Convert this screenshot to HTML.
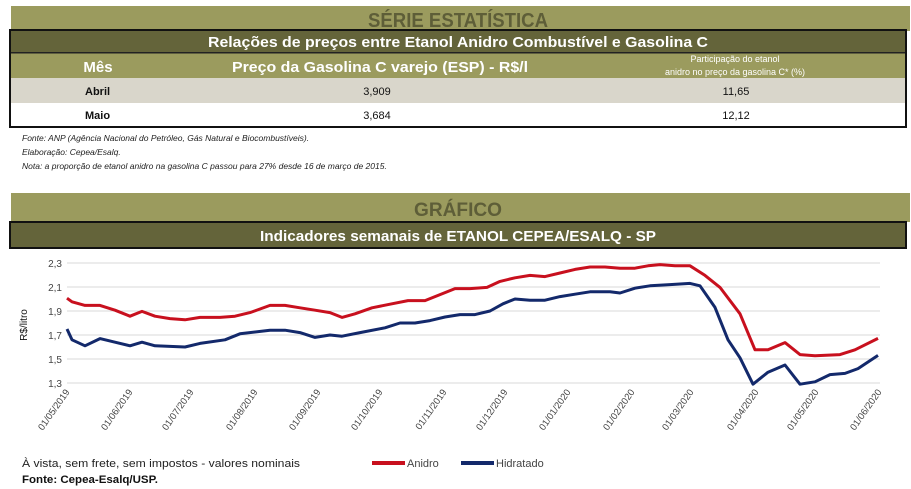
<!DOCTYPE html>
<html><head><meta charset="utf-8"><style>
body{margin:0;background:#fff;}
svg{display:block;font-family:"Liberation Sans",sans-serif;}
</style></head><body>
<svg width="911" height="489" viewBox="0 0 911 489">
<rect x="11" y="6" width="899" height="25" fill="#9b9b5e"/>
<text x="458" y="27" text-anchor="middle" font-size="20" font-weight="bold" fill="#5e5e38" textLength="180" lengthAdjust="spacingAndGlyphs">SÉRIE ESTATÍSTICA</text>
<rect x="10" y="30" width="896" height="97" fill="none" stroke="#111" stroke-width="2"/>
<rect x="11" y="31" width="894" height="21" fill="#64643a"/>
<text x="458" y="47" text-anchor="middle" font-size="15" font-weight="bold" fill="#fff" textLength="500" lengthAdjust="spacingAndGlyphs">Relações de preços entre Etanol Anidro Combustível e Gasolina C</text>
<rect x="11" y="52" width="894" height="1.5" fill="#222"/>
<rect x="11" y="53.5" width="894" height="24.5" fill="#9b9b5e"/>
<text x="98" y="72" text-anchor="middle" font-size="15" font-weight="bold" fill="#fff">Mês</text>
<text x="380" y="72" text-anchor="middle" font-size="15" font-weight="bold" fill="#fff" textLength="296" lengthAdjust="spacingAndGlyphs">Preço da Gasolina C varejo (ESP) - R$/l</text>
<text x="735" y="62" text-anchor="middle" font-size="9" fill="#fff">Participação do etanol</text>
<text x="735" y="75" text-anchor="middle" font-size="9" fill="#fff">anidro no preço da gasolina C* (%)</text>
<rect x="11" y="78" width="894" height="25" fill="#d9d6cb"/>
<text x="85" y="95" font-size="11" font-weight="bold" fill="#111">Abril</text>
<text x="377" y="95" text-anchor="middle" font-size="11" fill="#111">3,909</text>
<text x="736" y="95" text-anchor="middle" font-size="11" fill="#111">11,65</text>
<text x="85" y="119" font-size="11" font-weight="bold" fill="#111">Maio</text>
<text x="377" y="119" text-anchor="middle" font-size="11" fill="#111">3,684</text>
<text x="736" y="119" text-anchor="middle" font-size="11" fill="#111">12,12</text>
<g font-size="8.5" font-style="italic" fill="#222">
<text x="22" y="141">Fonte: ANP (Agência Nacional do Petróleo, Gás Natural e Biocombustíveis).</text>
<text x="22" y="155">Elaboração: Cepea/Esalq.</text>
<text x="22" y="169">Nota: a proporção de etanol anidro na gasolina C passou para 27% desde 16 de março de 2015.</text>
</g>
<rect x="11" y="193" width="899" height="29" fill="#9b9b5e"/>
<text x="458" y="216" text-anchor="middle" font-size="19" font-weight="bold" fill="#5e5e38" textLength="88" lengthAdjust="spacingAndGlyphs">GRÁFICO</text>
<rect x="10" y="222" width="896" height="26" fill="#64643a" stroke="#111" stroke-width="2"/>
<text x="458" y="241" text-anchor="middle" font-size="15" font-weight="bold" fill="#fff" textLength="396" lengthAdjust="spacingAndGlyphs">Indicadores semanais de ETANOL CEPEA/ESALQ - SP</text>
<g stroke="#d9d9d9" stroke-width="1">
<line x1="67" y1="263" x2="880" y2="263"/><line x1="67" y1="287" x2="880" y2="287"/>
<line x1="67" y1="311" x2="880" y2="311"/><line x1="67" y1="335" x2="880" y2="335"/>
<line x1="67" y1="359" x2="880" y2="359"/><line x1="67" y1="383" x2="880" y2="383"/>
</g>
<g font-size="10" fill="#444" text-anchor="end">
<text x="62" y="267">2,3</text><text x="62" y="291">2,1</text><text x="62" y="315">1,9</text>
<text x="62" y="339">1,7</text><text x="62" y="363">1,5</text><text x="62" y="387">1,3</text>
</g>
<text transform="translate(27,325) rotate(-90)" text-anchor="middle" font-size="10" fill="#111">R$/litro</text>
<g font-size="9.5" fill="#444" text-anchor="end">
<text transform="translate(70,392) rotate(-55)">01/05/2019</text>
<text transform="translate(133,392) rotate(-55)">01/06/2019</text>
<text transform="translate(194,392) rotate(-55)">01/07/2019</text>
<text transform="translate(258,392) rotate(-55)">01/08/2019</text>
<text transform="translate(321,392) rotate(-55)">01/09/2019</text>
<text transform="translate(383,392) rotate(-55)">01/10/2019</text>
<text transform="translate(447,392) rotate(-55)">01/11/2019</text>
<text transform="translate(508,392) rotate(-55)">01/12/2019</text>
<text transform="translate(571,392) rotate(-55)">01/01/2020</text>
<text transform="translate(635,392) rotate(-55)">01/02/2020</text>
<text transform="translate(694,392) rotate(-55)">01/03/2020</text>
<text transform="translate(759,392) rotate(-55)">01/04/2020</text>
<text transform="translate(819,392) rotate(-55)">01/05/2020</text>
<text transform="translate(882,392) rotate(-55)">01/06/2020</text>
</g>
<polyline fill="none" stroke="#c8101e" stroke-width="3" stroke-linejoin="round" points="67,298.2 72,301.8 85,305.4 100,305.4 115,310.2 130,316.2 142,311.4 155,316.2 170,318.6 185,319.8 200,317.4 220,317.4 235,316.2 250,312.6 270,305.4 285,305.4 300,307.8 315,310.2 330,312.6 342,317.4 355,313.8 372,307.8 390,304.2 408,300.6 425,300.6 440,294.6 455,288.6 470,288.6 487,287.4 500,281.4 515,277.8 530,275.4 545,276.6 560,273 575,269.4 590,267 605,267 620,268.2 635,268.2 648,265.8 660,264.6 675,265.8 690,265.8 705,275.4 720,287.4 740,313.8 755,349.8 768,349.8 785,342.6 800,354.6 815,355.8 840,354.6 855,349.8 878,338.4"/>
<polyline fill="none" stroke="#13296b" stroke-width="3" stroke-linejoin="round" points="67,329 72,339.8 85,345.8 100,338.6 115,342.2 130,345.8 142,342.2 155,345.8 185,347 200,343.4 225,339.8 240,333.8 270,330.2 285,330.2 300,332.6 315,337.4 330,335 342,336.2 360,332.6 385,327.8 400,323 415,323 430,320.6 445,317 460,314.6 475,314.6 490,311 503,303.8 515,299 530,300.2 545,300.2 560,296.6 575,294.2 590,291.8 610,291.8 620,293 635,288.2 650,285.8 670,284.6 690,283.4 700,285.8 715,307.4 728,339.8 740,357.8 753,384.2 768,372.2 785,365 800,384.2 815,381.8 830,374.6 845,373.4 858,368.6 878,355.4"/>
<line x1="372" y1="463" x2="405" y2="463" stroke="#c8101e" stroke-width="4"/>
<text x="407" y="467" font-size="11" fill="#444">Anidro</text>
<line x1="461" y1="463" x2="494" y2="463" stroke="#13296b" stroke-width="4"/>
<text x="496" y="467" font-size="11" fill="#444">Hidratado</text>
<text x="22" y="467" font-size="11" fill="#222" textLength="278" lengthAdjust="spacingAndGlyphs">À vista, sem frete, sem impostos - valores nominais</text>
<text x="22" y="483" font-size="11" font-weight="bold" fill="#111" textLength="136" lengthAdjust="spacingAndGlyphs">Fonte: Cepea-Esalq/USP.</text>
</svg>
</body></html>
